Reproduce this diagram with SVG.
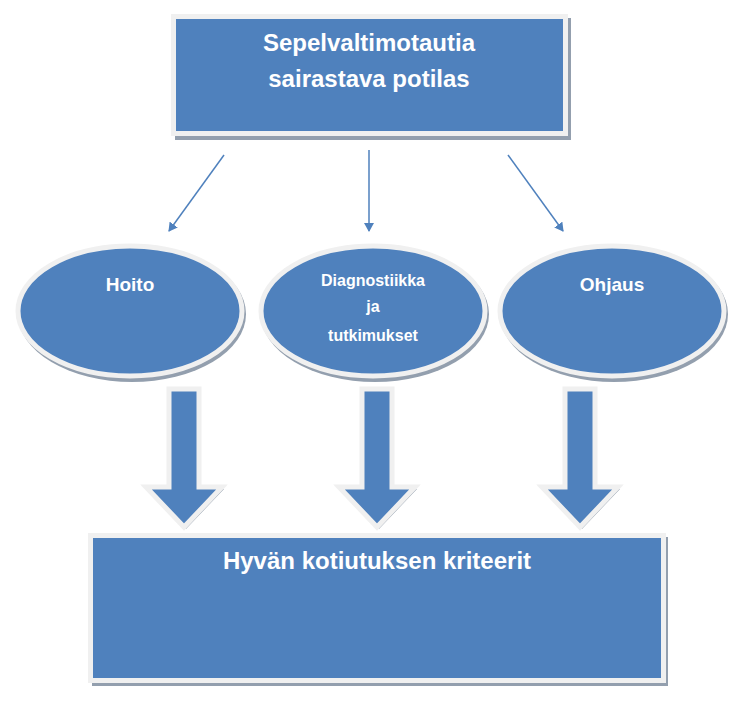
<svg xmlns="http://www.w3.org/2000/svg" width="745" height="706" viewBox="0 0 745 706">
<style>
.sh{fill:#939FAE}
.nd{fill:#4F81BD;stroke:#F0F0F0;stroke-width:5}
.t{font-family:"Liberation Sans",Arial,sans-serif;font-weight:bold;fill:#fff;text-anchor:middle}
.c{stroke:#4F81BD;stroke-width:1.5;fill:none;marker-end:url(#a)}
</style>
<defs>
<marker id="a" markerWidth="10" markerHeight="10" refX="8" refY="5" orient="auto" markerUnits="userSpaceOnUse">
<path d="M0,0 L9,5 L0,10 Z" fill="#4F81BD"/>
</marker>
<path id="ba" d="M-15,0 H15 V98 H38 L0,138 L-38,98 H-15 Z"/>
</defs>
<g id="top">
<rect class="sh" x="175" y="18" width="396" height="122"/>
<rect class="nd" x="173.5" y="16.5" width="392" height="117"/>
<text class="t" x="369" y="51" font-size="24">Sepelvaltimotautia</text>
<text class="t" x="369" y="87" font-size="24">sairastava potilas</text>
</g>
<g id="hoito">
<ellipse class="sh" cx="132" cy="314" rx="114" ry="68"/>
<ellipse class="nd" cx="130" cy="311" rx="112" ry="65"/>
<text class="t" x="130" y="291" font-size="19">Hoito</text>
</g>
<g id="diag">
<ellipse class="sh" cx="375" cy="314" rx="114" ry="68"/>
<ellipse class="nd" cx="373" cy="311" rx="112" ry="65"/>
<text class="t" x="373" y="286" font-size="16">Diagnostiikka</text>
<text class="t" x="373" y="312" font-size="16">ja</text>
<text class="t" x="373" y="341" font-size="16">tutkimukset</text>
</g>
<g id="ohjaus">
<ellipse class="sh" cx="614" cy="314" rx="114" ry="68"/>
<ellipse class="nd" cx="612" cy="311" rx="112" ry="65"/>
<text class="t" x="612" y="291" font-size="19">Ohjaus</text>
</g>
<g id="bottom">
<rect class="sh" x="92" y="537" width="576" height="149"/>
<rect class="nd" x="90.5" y="535.5" width="573" height="145"/>
<text class="t" x="377" y="569" font-size="24">Hyvän kotiutuksen kriteerit</text>
</g>
<g id="connectors">
<line class="c" x1="224" y1="155" x2="169" y2="231"/>
<line class="c" x1="369" y1="150" x2="369" y2="231"/>
<line class="c" x1="508" y1="155" x2="563" y2="231"/>
<use href="#ba" x="186" y="391" class="sh"/>
<use href="#ba" x="184" y="389" class="nd"/>
<use href="#ba" x="379" y="391" class="sh"/>
<use href="#ba" x="377" y="389" class="nd"/>
<use href="#ba" x="582" y="391" class="sh"/>
<use href="#ba" x="580" y="389" class="nd"/>
</g>
</svg>
